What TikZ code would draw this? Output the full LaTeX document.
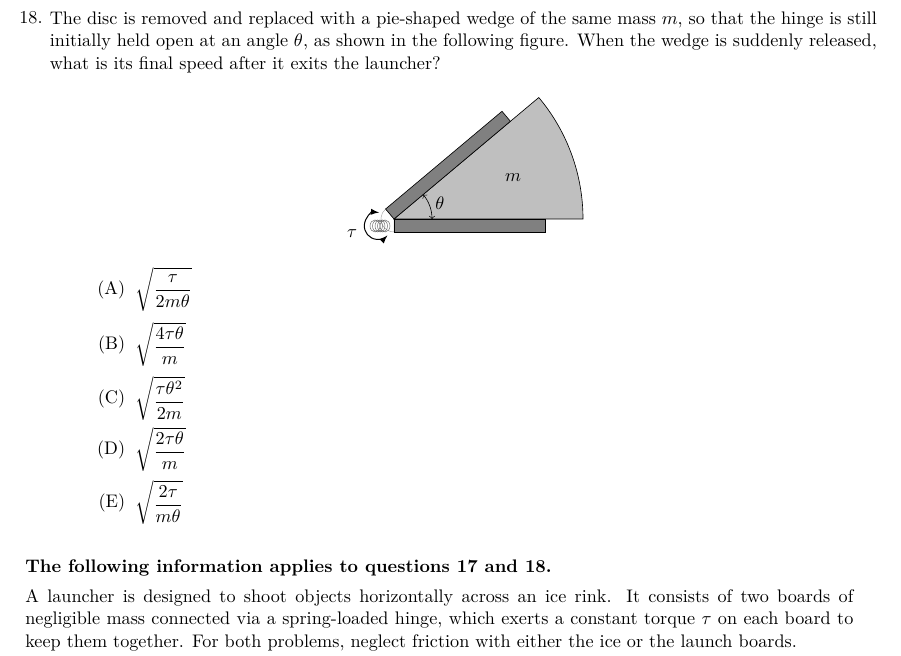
\documentclass[tikz,border=0pt]{standalone}
\usepackage{amsmath}
\usetikzlibrary{calc}
\tikzset{
  para/.style={anchor=north west, inner sep=0pt, align=justify, font=\fontsize{10}{12.4}\selectfont},
  board/.style={draw=black, fill=black!50, line width=0.35pt},
  choice/.style={inner sep=0pt},
}
\begin{document}
\begin{tikzpicture}[x=0.55pt, y=-0.55pt]
\useasboundingbox (0,0) rectangle (901,656);
\fill[white] (0,0) rectangle (901,656);
% question
\node[para, anchor=north east, align=right] (num) at (43,11) {18.};
\node[para, text width=827*0.55pt] (question) at (49.5,11) {The disc is removed and replaced with a pie-shaped wedge of the same mass $m$, so that the hinge is still initially held open at an angle $\theta$, as shown in the following figure. When the wedge is suddenly released, what is its final speed after it exits the launcher?};
% figure
\coordinate (hinge) at (394,219);
\fill[white, draw=black!40, line width=0.2pt] (hinge) -- +(-8.4,-10) arc[start angle=230, delta angle=-140, radius=13] -- cycle;
\draw[fill=black!25, line width=0.35pt] (hinge) -- +(189,0) arc[start angle=0, delta angle=-40, radius=189] -- cycle;
\draw[board] (hinge) rectangle (545.5,232);
\draw[board] (hinge) -- (510.4,121.3) -- (502,111.3) -- (385.6,209) -- cycle;
\foreach \x in {375,377.5,...,385}{
\draw[black!60, line width=0.25pt] (\x,226) ellipse[x radius=5, y radius=6];
}
\draw[latex-latex, line width=0.55pt] (379,212.5) arc[start angle=-85, delta angle=-230, radius=13.5];
\draw[<->, line width=0.35pt] (432,219) arc[start angle=0, delta angle=-40, radius=38];
\node (theta) at (440,203) {$\theta$};
\node (mass) at (513,178) {$m$};
\node (tau) at (352,233.5) {$\tau$};
% choices
\foreach \lab/\val/\y in {A/{\frac{\tau}{2m\theta}}/289.5, B/{\frac{4\tau\theta}{m}}/344.5, C/{\frac{\tau\theta^2}{2m}}/398.5, D/{\frac{2\tau\theta}{m}}/449.5, E/{\frac{2\tau}{m\theta}}/502.5}{
\node[choice, anchor=east] (lab\lab) at (125.5,\y) {(\lab)};
\node[choice, anchor=west] (ans\lab) at (135,\y-0.5) {$\displaystyle\sqrt{\val}$};
}
% shared information
\node[para, anchor=west, font=\bfseries] (head) at (25,567.5) {The following information applies to questions 17 and 18.};
\node[para, text width=828*0.55pt] (info) at (25,589) {A launcher is designed to shoot objects horizontally across an ice rink. It consists of two boards of negligible mass connected via a spring-loaded hinge, which exerts a constant torque $\tau$ on each board to keep them together. For both problems, neglect friction with either the ice or the launch boards.};
\end{tikzpicture}
\end{document}
